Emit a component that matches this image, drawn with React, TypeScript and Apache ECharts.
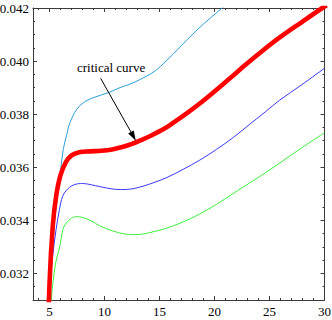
import React, { useEffect, useRef } from "react";
import * as echarts from "echarts";

const xTicks = [5, 10, 15, 20, 25, 30];
const xMinorTicks = [4, 6, 7, 8, 9, 11, 12, 13, 14, 16, 17, 18, 19, 21, 22, 23, 24, 26, 27, 28, 29];
const yTicks = [0.032, 0.034, 0.036, 0.038, 0.04, 0.042];
const yMinorTicks = [0.0315, 0.0325, 0.033, 0.0335, 0.0345, 0.035, 0.0355, 0.0365, 0.037, 0.0375, 0.0385, 0.039, 0.0395, 0.0405, 0.041, 0.0415];

const cyanCurve = [
  [4.9, 0.029], [5.15, 0.0325], [5.5, 0.0341], [5.85, 0.0353], [6.25, 0.03667], [6.55, 0.0372],
  [6.86, 0.03768], [7.47, 0.03818], [8.07, 0.03843], [8.97, 0.03862], [10.34, 0.03881], [11.4, 0.039],
  [12.3, 0.03913], [13.2, 0.0393], [14.5, 0.0396], [15.6, 0.04], [16.8, 0.0405], [17.5, 0.0408],
  [19, 0.0414], [20.7, 0.042], [21.5, 0.0423],
];
const criticalCurve = [
  [4.85, 0.029], [5.0, 0.0316], [5.3, 0.0338], [5.6, 0.0349], [6.0, 0.0357], [6.5, 0.0362],
  [7.0, 0.03645], [7.7, 0.03657], [8.7, 0.0366], [9.7, 0.03662], [10.7, 0.03667], [11.7, 0.03677],
  [12.5, 0.03688], [13.2, 0.037], [14.12, 0.03717], [15.5, 0.03747], [16.3, 0.03769], [17.5, 0.03804],
  [18.66, 0.0384], [19.83, 0.0388], [21.4, 0.03935], [22.9, 0.03989], [24.4, 0.0404], [25.9, 0.04088],
  [27.9, 0.04146], [29.8, 0.042], [30.2, 0.0421],
];
const blueCurve = [
  [4.9, 0.029], [5.05, 0.0315], [5.3, 0.0327], [5.6, 0.03366], [5.9, 0.0344], [6.2, 0.03491],
  [6.7, 0.0352], [7.3, 0.03535], [8.0, 0.03539], [8.8, 0.03534], [9.58, 0.03527], [10.76, 0.03518],
  [11.55, 0.03516], [12.4, 0.03518], [13.2, 0.03525], [14.12, 0.03537], [15.6, 0.0356], [17.14, 0.03592],
  [18.66, 0.03627], [20.17, 0.03667], [21.7, 0.03712], [23.2, 0.03762], [24.6, 0.03808], [25.9, 0.03852],
  [27.9, 0.0391], [30, 0.03973],
];
const greenCurve = [
  [4.95, 0.029], [5.16, 0.031], [5.56, 0.0324], [5.93, 0.033], [6.22, 0.03366], [6.52, 0.0339],
  [7.0, 0.03408], [7.43, 0.03414], [8.0, 0.03411], [8.8, 0.03398], [9.58, 0.03379], [10.76, 0.0336],
  [11.8, 0.03349], [12.77, 0.03346], [14.12, 0.03354], [15.6, 0.0337], [17.14, 0.03394], [18.66, 0.03424],
  [20.17, 0.0346], [22.1, 0.03512], [24.1, 0.03565], [25.9, 0.03615], [27.7, 0.03667], [30, 0.0373],
];
const arrowFrom = [9.65, 0.03935];
const arrowTo = [12.85, 0.037];
const annotationText = "critical curve";

const FONT = "'Liberation Serif', 'Times New Roman', serif";
const FRAME = "#3a3a3a";

function xAxisCfg(position: "bottom" | "top", ticks: number[], len: number, labels: boolean, line: boolean) {
  return {
    type: "value",
    position,
    min: 3.5,
    max: 30,
    splitLine: { show: false },
    axisLine: { show: line, onZero: false, lineStyle: { color: FRAME, width: 1 } },
    axisTick: { show: true, inside: true, length: len, customValues: ticks, lineStyle: { color: FRAME, width: 1 } },
    axisLabel: labels
      ? { show: true, customValues: ticks, margin: 5, color: "#000", fontFamily: FONT, fontSize: 13, formatter: (v: number) => String(v) }
      : { show: false },
  };
}
function yAxisCfg(position: "left" | "right", ticks: number[], len: number, labels: boolean, line: boolean) {
  return {
    type: "value",
    position,
    min: 0.031,
    max: 0.042,
    splitLine: { show: false },
    axisLine: { show: line, onZero: false, lineStyle: { color: FRAME, width: 1 } },
    axisTick: { show: true, inside: true, length: len, customValues: ticks, lineStyle: { color: FRAME, width: 1 } },
    axisLabel: labels
      ? { show: true, customValues: ticks, margin: 4, color: "#000", fontFamily: FONT, fontSize: 13, formatter: (v: number) => v.toFixed(3) }
      : { show: false },
  };
}

export default function App() {
  const ref = useRef<HTMLDivElement>(null);
  useEffect(() => {
    if (!ref.current) return;
    const chart = echarts.init(ref.current, null, { renderer: "svg" });
    const lineSeries = (data: number[][], color: string, width: number, z: number) => ({
      type: "line",
      data,
      xAxisIndex: 0,
      yAxisIndex: 0,
      showSymbol: false,
      symbol: "none",
      smooth: 0.35,
      clip: true,
      z,
      lineStyle: { color, width },
    });
    chart.setOption({
      animation: false,
      backgroundColor: "#fff",
      grid: { left: 33, right: 7.5, top: 8, bottom: 20, containLabel: false, outerBoundsMode: "none" },
      xAxis: [
        xAxisCfg("bottom", xTicks, 4, true, true),
        xAxisCfg("bottom", xMinorTicks, 2, false, false),
        xAxisCfg("top", xTicks, 4, false, true),
        xAxisCfg("top", xMinorTicks, 2, false, false),
      ],
      yAxis: [
        yAxisCfg("left", yTicks, 4, true, true),
        yAxisCfg("left", yMinorTicks, 2, false, false),
        yAxisCfg("right", yTicks, 4, false, true),
        yAxisCfg("right", yMinorTicks, 2, false, false),
      ],
      series: [
        lineSeries(cyanCurve, "#2a9fd6", 1, 3),
        lineSeries(blueCurve, "#3838ff", 1, 3),
        lineSeries(greenCurve, "#3cef3c", 1, 3),
        lineSeries(criticalCurve, "#ff0000", 4.6, 5),
      ],
    });
    const finder = { xAxisIndex: 0, yAxisIndex: 0 };
    const p1 = chart.convertToPixel(finder, arrowFrom) as number[];
    const p2 = chart.convertToPixel(finder, arrowTo) as number[];
    const dx = p2[0] - p1[0];
    const dy = p2[1] - p1[1];
    const len = Math.hypot(dx, dy);
    const ux = dx / len;
    const uy = dy / len;
    const headLen = 10;
    const headHalf = 3.2;
    const bx = p2[0] - ux * headLen;
    const by = p2[1] - uy * headLen;
    chart.setOption({
      graphic: [
        {
          type: "text",
          left: 77,
          top: 61,
          z: 20,
          style: { text: annotationText, fill: "#000", font: `13px ${FONT}` },
        },
        {
          type: "line",
          z: 20,
          shape: { x1: p1[0], y1: p1[1], x2: bx + ux * 2, y2: by + uy * 2 },
          style: { stroke: "#000", lineWidth: 1 },
        },
        {
          type: "polygon",
          z: 21,
          shape: {
            points: [
              [p2[0], p2[1]],
              [bx - uy * headHalf, by + ux * headHalf],
              [bx + uy * headHalf, by - ux * headHalf],
            ],
          },
          style: { fill: "#000" },
        },
      ],
    });
    return () => chart.dispose();
  }, []);
  return <div ref={ref} style={{ position: "absolute", left: 0, top: 0, width: 332, height: 320 }} />;
}
